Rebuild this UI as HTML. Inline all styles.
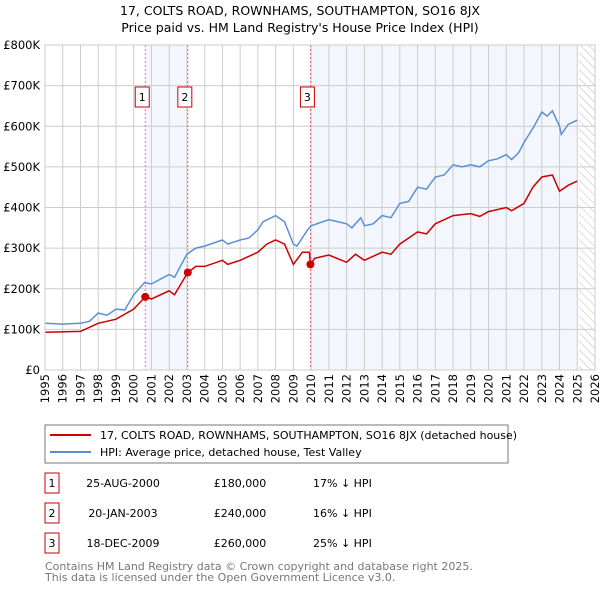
<!DOCTYPE html>
<html><head><meta charset="utf-8"><style>
body{margin:0;background:#fff;font-family:"Liberation Sans","DejaVu Sans",sans-serif;}
svg text{font-family:"DejaVu Sans","Liberation Sans",sans-serif;}
</style></head><body>
<svg id="c" width="600" height="590" xmlns="http://www.w3.org/2000/svg">
<defs><pattern id="hatch" width="6" height="6" patternUnits="userSpaceOnUse" patternTransform="rotate(-45)"><line x1="0" y1="0" x2="0" y2="6" stroke="#bbb" stroke-width="1"/></pattern></defs>
<text x="300" y="15" text-anchor="middle" font-size="12.5">17, COLTS ROAD, ROWNHAMS, SOUTHAMPTON, SO16 8JX</text>
<text x="300" y="32" text-anchor="middle" font-size="12.5">Price paid vs. HM Land Registry's House Price Index (HPI)</text>
<g id="plot"></g>
<rect x="45" y="425" width="463" height="38" fill="#fff" stroke="#777"/>
<line x1="50" y1="435" x2="91" y2="435" stroke="#cc0000" stroke-width="2"/>
<text x="100" y="439" font-size="11">17, COLTS ROAD, ROWNHAMS, SOUTHAMPTON, SO16 8JX (detached house)</text>
<line x1="50" y1="452" x2="91" y2="452" stroke="#5b8fd4" stroke-width="2"/>
<text x="100" y="456" font-size="11">HPI: Average price, detached house, Test Valley</text>
<g id="tbl"></g>
<text x="45" y="570" font-size="11" fill="#777">Contains HM Land Registry data © Crown copyright and database right 2025.</text>
<text x="45" y="581" font-size="11" fill="#777">This data is licensed under the Open Government Licence v3.0.</text>
</svg>
<script>
const hpiYears=[1995,1996,1997,1997.5,1998,1998.5,1999,1999.5,2000,2000.6,2001,2002,2002.3,2003,2003.5,2004,2005,2005.3,2006,2006.5,2007,2007.3,2008,2008.5,2009,2009.2,2009.8,2010,2011,2012,2012.3,2012.8,2013,2013.5,2014,2014.5,2015,2015.5,2016,2016.5,2017,2017.5,2018,2018.5,2019,2019.5,2020,2020.5,2021,2021.3,2021.7,2022,2022.5,2023,2023.3,2023.6,2024,2024.1,2024.5,2025];
const hpiValues=[115,113,115,120,140,135,150,148,185,215,212,235,228,285,300,305,320,310,320,325,345,365,380,365,310,305,345,355,370,360,350,375,355,360,380,375,410,415,450,445,475,480,505,500,505,500,515,520,530,518,535,560,595,635,625,638,600,580,605,615];
const ppYears=[1995,1997,1998,1999,2000,2000.65,2001,2002,2002.3,2003.05,2003.5,2004,2005,2005.3,2006,2007,2007.5,2008,2008.5,2009,2009.5,2009.9,2009.96,2010.2,2011,2012,2012.5,2013,2014,2014.5,2015,2016,2016.5,2017,2018,2019,2019.5,2020,2021,2021.3,2022,2022.5,2023,2023.6,2024,2024.5,2025];
const ppValues=[93,95,115,125,150,180,175,195,185,240,255,255,270,260,270,290,310,320,310,260,290,290,260,275,283,265,285,270,290,285,310,340,335,360,380,385,378,390,400,392,410,450,475,480,440,455,465];
const saleLabels=["1","2","3"];
const saleYears=[2000.65,2003.05,2009.96];
const saleValues=[180,240,260];
const saleDates=["25-AUG-2000","20-JAN-2003","18-DEC-2009"];
const salePrices=["£180,000","£240,000","£260,000"];
const saleDiffs=["17% ↓ HPI","16% ↓ HPI","25% ↓ HPI"];
const yTicks=[0,100,200,300,400,500,600,700,800];
const yTickLabels=["£0","£100K","£200K","£300K","£400K","£500K","£600K","£700K","£800K"];
const xTicks=[1995,1996,1997,1998,1999,2000,2001,2002,2003,2004,2005,2006,2007,2008,2009,2010,2011,2012,2013,2014,2015,2016,2017,2018,2019,2020,2021,2022,2023,2024,2025,2026];
const L=45,R=595,T=45,B=370,X0=1995,X1=2026,YMAX=800;
const xs=t=>L+(t-X0)/(X1-X0)*(R-L);
const ys=v=>B-v/YMAX*(B-T);
const NS="http://www.w3.org/2000/svg";
function mk(p,tag,at){const e=document.createElementNS(NS,tag);for(const k in at)e.setAttribute(k,at[k]);p.appendChild(e);return e;}
const g=document.getElementById('plot');
let r=mk(g,'rect',{x:xs(saleYears[0]),y:T,width:xs(saleYears[1])-xs(saleYears[0]),height:B-T,fill:'#eef3fc',opacity:0.7});


r=mk(g,'rect',{x:xs(saleYears[2]),y:T,width:xs(2025)-xs(saleYears[2]),height:B-T,fill:'#eef3fc',opacity:0.7});


r=mk(g,'rect',{x:xs(2025.1),y:T,width:R-xs(2025.1),height:B-T,fill:'url(#hatch)'});


xTicks.forEach(t=>{const x=xs(t);
 let l=mk(g,'line',{x1:x,y1:T,x2:x,y2:B,stroke:'#ccc'});
 
 
 let tx=mk(g,'text',{x:0,y:0,'text-anchor':'end','font-size':11.5,transform:'translate('+(x+4)+',374) rotate(-90)'});tx.textContent=t;
 
 });
yTicks.forEach((v,i)=>{const y=ys(v);
 let l=mk(g,'line',{x1:L,y1:y,x2:R,y2:y,stroke:'#ccc'});
 
 
 let tx=mk(g,'text',{x:40,y:y+4,'text-anchor':'end','font-size':11.5});tx.textContent=yTickLabels[i];
 
 });
saleYears.forEach((t,i)=>{const x=xs(t);
 let l=mk(g,'line',{x1:x,y1:T,x2:x,y2:B,stroke:'#e55','stroke-dasharray':'2,2','stroke-width':0.8});
 
 
 let b=mk(g,'rect',{x:x-10,y:87,width:14,height:20,fill:'#fff',stroke:'#cc0000'});
 
 
 let tx=mk(g,'text',{x:x-3,y:101,'text-anchor':'middle','font-size':11});tx.textContent=saleLabels[i];
 
 });
const path=(X,V)=>X.map((t,i)=>(i?'L':'M')+xs(t).toFixed(1)+','+ys(V[i]).toFixed(1)).join('');
let p=mk(g,'path',{d:path(hpiYears,hpiValues),fill:'none',stroke:'#5b8fd4','stroke-width':1.5});


p=mk(g,'path',{d:path(ppYears,ppValues),fill:'none',stroke:'#cc0000','stroke-width':1.5});


saleYears.forEach((t,i)=>{let c=mk(g,'circle',{cx:xs(t),cy:ys(saleValues[i]),r:4,fill:'#cc0000'});
 
 });
let ax=mk(g,'rect',{x:L,y:T,width:R-L,height:B-T,fill:'none',stroke:'#ccc'});


const tb=document.getElementById('tbl');
saleLabels.forEach((s,i)=>{const y=483+i*30;
 let b=mk(tb,'rect',{x:45,y:y-10,width:14,height:20,fill:'#fff',stroke:'#cc0000'});
 
 
 const cells=[[52,s,'middle'],[123,saleDates[i],'middle'],[240,salePrices[i],'middle'],[313,saleDiffs[i],'start']];
 cells.forEach(c=>{let tx=mk(tb,'text',{x:c[0],y:y+4,'text-anchor':c[2],'font-size':11});tx.textContent=c[1];
  
  });});
</script>
</body></html>
